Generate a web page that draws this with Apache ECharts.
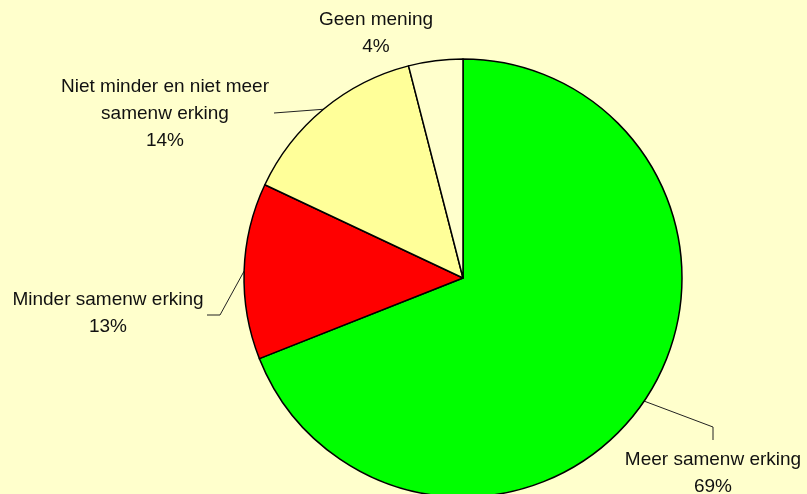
<!DOCTYPE html>
<html>
<head>
<meta charset="utf-8">
<script src="https://cdn.jsdelivr.net/npm/echarts@6/dist/echarts.min.js"></script>
<style>
  html, body { margin: 0; padding: 0; background: #ffffcc; }
  #main { width: 807px; height: 494px; }
</style>
</head>
<body>
<div id="main"></div>
<script>
// slices, clockwise from 12 o'clock
var categories = ['Meer samenw erking', 'Minder samenw erking', 'Niet minder en niet meer\nsamenw erking', 'Geen mening'];
var values = [69, 13, 14, 4];
var colors = ['#00ff00', '#ff0000', '#ffff99', '#ffffcc'];

// label placement (x, y of text top centre) and elbow of the leader line
var labelPos = [
    { x: 713, y: 446, elbow: [[713, 427], [713, 440]] },
    { x: 108, y: 286, elbow: [[220, 315], [207, 315]] },
    { x: 165, y: 73, elbow: [[274, 113]] },
    { x: 376, y: 6, elbow: null }
];

var myChart = echarts.init(document.getElementById('main'));
var option = {
    backgroundColor: '#ffffcc',
    animation: false,
    series: [
        {
            type: 'pie',
            center: [463, 278],
            radius: 219,
            startAngle: 90,
            clockwise: true,
            avoidLabelOverlap: false,
            itemStyle: { borderColor: '#000', borderWidth: 1.5 },
            label: {
                show: true,
                formatter: function (p) {
                    return p.name + '\n' + Math.round(p.percent) + '%';
                },
                color: '#111',
                fontFamily: 'Liberation Sans, Arial, sans-serif',
                fontSize: 19,
                lineHeight: 27,
                align: 'center'
            },
            labelLine: {
                show: true,
                lineStyle: { color: '#222', width: 1 }
            },
            labelLayout: function (params) {
                var lp = labelPos[params.dataIndex];
                var res = { x: lp.x, y: lp.y, align: 'center', verticalAlign: 'top' };
                if (lp.elbow && params.labelLinePoints) {
                    res.labelLinePoints = [params.labelLinePoints[0]].concat(lp.elbow);
                }
                return res;
            },
            data: categories.map(function (c, i) {
                return {
                    name: c,
                    value: values[i],
                    itemStyle: { color: colors[i] },
                    labelLine: { show: labelPos[i].elbow !== null }
                };
            })
        }
    ]
};
myChart.setOption(option);
</script>
</body>
</html>
